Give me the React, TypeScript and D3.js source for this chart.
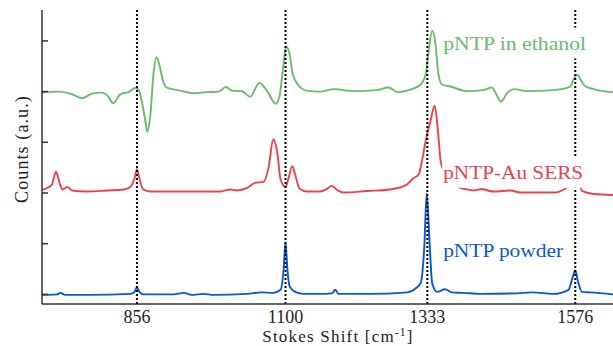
import React from "react";
import * as d3 from "d3";

const WIDTH = 613;
const HEIGHT = 346;

const xTicks = [856, 1100, 1333, 1576];
const yTicks = [0, 1, 2, 3, 4, 5];

const seriesNames = ["pNTP powder", "pNTP-Au SERS", "pNTP in ethanol"];
const seriesOffsets = [0, 2, 4];
const seriesColors = ["#0a56d6", "#e9434c", "#69bc69"];

const powderSpectrum: [number, number][] = [
  [700, -0.01], [725, 0], [730, 0.03], [738, -0.01], [779, -0.01], [845, 0.01], [852, 0.05],
  [856, 0.14], [860, 0.05], [867, 0], [916, 0], [933, 0.03], [946, -0.01], [965, 0.01],
  [982, -0.01], [1037, 0.01], [1061, 0.04], [1080, 0.03], [1092, 0.09], [1097, 0.51],
  [1100, 1.03], [1103, 0.51], [1107, 0.15], [1116, 0.05], [1130, 0.01], [1157, 0.01],
  [1176, 0.02], [1182, 0.09], [1187, 0.01], [1239, 0.01], [1300, 0.04], [1316, 0.14],
  [1322, 0.22], [1328, 0.94], [1332, 1.99], [1337, 0.94], [1341, 0.22], [1349, 0.05],
  [1362, 0.1], [1373, 0.04], [1392, 0.03], [1420, 0.01], [1480, 0.02], [1505, 0.04],
  [1540, 0.01], [1565, 0.09], [1572, 0.35], [1576, 0.47], [1580, 0.28], [1587, 0.05],
  [1601, 0.04], [1638, 0],
];

const sersSpectrum: [number, number][] = [
  [700, 0.06], [716, 0.16], [723, 0.42], [729, 0.19], [734, 0.07], [742, 0.12], [749, 0.05],
  [774, 0.03], [807, 0.05], [834, 0.07], [845, 0.12], [852, 0.29], [856, 0.47], [860, 0.29],
  [866, 0.07], [878, 0.03], [916, 0.03], [960, 0.03], [993, 0.03], [1010, 0.07], [1020, 0.05],
  [1037, 0.1], [1050, 0.2], [1064, 0.22], [1072, 0.49], [1080, 1.06], [1087, 0.75],
  [1092, 0.26], [1100, 0.12], [1105, 0.29], [1111, 0.53], [1116, 0.36], [1123, 0.09],
  [1135, 0.03], [1157, 0.03], [1168, 0.08], [1176, 0.14], [1185, 0.06], [1195, 0.01],
  [1234, 0.04], [1272, 0.07], [1300, 0.17], [1310, 0.29], [1319, 0.37], [1324, 0.62],
  [1330, 1.01], [1338, 1.41], [1345, 1.72], [1350, 1.28], [1355, 0.62], [1362, 0.39],
  [1376, 0.17], [1398, 0.07], [1410, 0.05], [1423, 0.08], [1435, 0.04], [1442, 0.03],
  [1469, 0.05], [1486, 0.01], [1540, 0.01], [1560, 0.09], [1568, 0.36], [1573, 0.66],
  [1579, 0.42], [1587, 0.04], [1606, -0.02], [1638, -0.04],
];

const ethanolSpectrum: [number, number][] = [
  [700, -0.02], [727, 0], [749, -0.05], [766, -0.13], [782, -0.04], [798, -0.02], [807, -0.07],
  [817, -0.23], [829, -0.05], [842, -0.01], [853, 0.07], [859, 0.03], [864, -0.2], [870, -0.59],
  [873, -0.79], [878, -0.46], [883, 0.33], [888, 0.68], [893, 0.52], [899, 0.2], [905, 0.08],
  [927, 0.02], [949, -0.03], [971, -0.01], [990, 0], [1002, 0.09], [1012, 0.02], [1028, 0.01],
  [1042, -0.1], [1057, 0.17], [1070, 0.01], [1084, -0.24], [1090, -0.1], [1096, 0.46],
  [1101, 0.89], [1107, 0.72], [1112, 0.34], [1121, 0.13], [1135, 0.02], [1157, 0],
  [1179, 0.05], [1212, 0.01], [1250, 0.03], [1269, 0.08], [1284, -0.01], [1305, 0.04],
  [1321, 0.13], [1330, 0.33], [1335, 0.79], [1341, 1.2], [1346, 0.98], [1351, 0.36],
  [1357, 0.14], [1371, 0.1], [1398, 0.01], [1425, 0.03], [1439, 0.08], [1447, -0.07],
  [1454, -0.2], [1464, -0.03], [1475, 0.05], [1497, 0.01], [1540, 0.03], [1568, 0.1],
  [1574, 0.26], [1580, 0.33], [1585, 0.23], [1592, 0.11], [1606, 0.05], [1638, -0.01],
];

const spectra = [powderSpectrum, sersSpectrum, ethanolSpectrum];

// label placement (data coords: wavenumber of left edge, counts of baseline)
const labelX = [1359, 1359, 1359];
const labelY = [0.74, 2.28, 4.83];
const labelWidths = [120, 140, 143];

const FONT = "'Liberation Serif', 'Times New Roman', serif";

export default function App() {
  const margin = { left: 42, right: 0, top: 10, bottom: 42 };
  const x = d3.scaleLinear().domain([700, 1638]).range([margin.left, WIDTH - margin.right]);
  const y = d3.scaleLinear().domain([-0.19, 5.61]).range([HEIGHT - margin.bottom, margin.top]);
  const y0 = HEIGHT - margin.bottom;

  const line = d3
    .line<[number, number]>()
    .x((d) => x(d[0]))
    .y((d) => y(d[1]))
    .curve(d3.curveMonotoneX);

  return (
    <svg
      width={WIDTH}
      height={HEIGHT}
      style={{ position: "absolute", left: 0, top: 0, background: "#fff" }}
    >
      <defs>
        <clipPath id="plotclip">
          <rect x={margin.left} y={margin.top} width={WIDTH - margin.left} height={y0 - margin.top} />
        </clipPath>
      </defs>
      <g clipPath="url(#plotclip)">
        {spectra.map((s, i) => (
          <path
            key={i}
            d={line(s.map((d) => [d[0], d[1] + seriesOffsets[i]] as [number, number])) || ""}
            fill="none"
            stroke={seriesColors[i]}
            strokeWidth={1.9}
            strokeLinejoin="round"
          />
        ))}
        {xTicks.map((t) => (
          <line
            key={t}
            x1={x(t)}
            x2={x(t)}
            y1={margin.top}
            y2={y0}
            stroke="#000"
            strokeWidth={2}
            strokeDasharray="2,2"
          />
        ))}
      </g>
      {seriesNames.map((name, i) => {
        const lx = x(labelX[i]);
        const ly = y(labelY[i]);
        return (
          <g key={name}>
            <rect x={lx - 1} y={ly - 22} width={labelWidths[i] + 6} height={31} fill="#fff" />
            <text
              x={lx}
              y={ly}
              fontFamily={FONT}
              fontSize={19}
              fill={seriesColors[i]}
              textLength={labelWidths[i]}
              lengthAdjust="spacingAndGlyphs"
            >
              {name}
            </text>
          </g>
        );
      })}
      {/* axes */}
      <line x1={margin.left} x2={margin.left} y1={margin.top} y2={y0} stroke="#333" strokeWidth={1.5} />
      <line x1={margin.left} x2={WIDTH} y1={y0} y2={y0} stroke="#333" strokeWidth={1.5} />
      {yTicks.map((t) => (
        <line key={t} x1={margin.left} x2={margin.left + 6} y1={y(t)} y2={y(t)} stroke="#333" strokeWidth={1.5} />
      ))}
      {xTicks.map((t) => (
        <text key={t} x={x(t)} y={323} textAnchor="middle" fontFamily={FONT} fontSize={18} fill="#222">
          {t}
        </text>
      ))}
      <text x={338} y={341.5} textAnchor="middle" fontFamily={FONT} fontSize={17} fill="#222" letterSpacing={1.2}>
        Stokes Shift [cm
        <tspan dy={-6} fontSize={11.5}>-1</tspan>
        <tspan dy={6}>]</tspan>
      </text>
      <text
        transform={`translate(28, 149) rotate(-90)`}
        textAnchor="middle"
        fontFamily={FONT}
        fontSize={18}
        fill="#222"
        letterSpacing={1.1}
      >
        Counts (a.u.)
      </text>
    </svg>
  );
}
